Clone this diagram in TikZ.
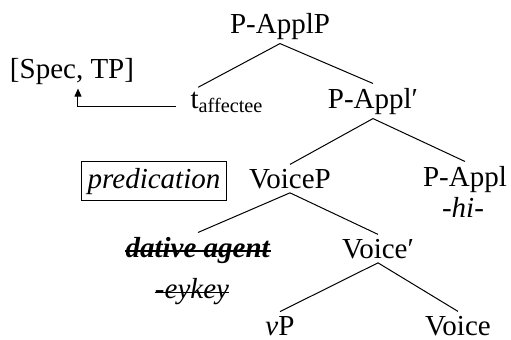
\documentclass[tikz,border=0pt]{standalone}
\usepackage{fontspec}
\setmainfont{Liberation Serif}
\usetikzlibrary{positioning, arrows.meta}

\begin{document}
\begin{tikzpicture}[x=0.5pt, y=-0.5pt,
    cat/.style={font=\fontsize{14.5}{17}\selectfont, inner sep=2pt, anchor=base},
    branch/.style={line width=0.5pt}]
    \useasboundingbox (0,0) rectangle (511,339);
    % tree nodes
    \node (papplp) [cat] at (280,33) {P-ApplP};
    \node (spec) [cat] at (72,78) {[Spec, TP]};
    \node (taff) [cat] at (227,108) {t\textsubscript{affectee}};
    \node (pappl1) [cat] at (373,108) {P-Appl′};
    \node (pred) [cat, draw, line width=0.5pt, inner sep=3pt] at (154,188) {\textit{predication}};
    \node (voicep) [cat] at (290,188) {VoiceP};
    \node (pappl) [cat] at (465,186) {P-Appl};
    \node (hi) [cat] at (463,217) {\textit{-hi-}};
    \node (agent) [cat] at (198,257) {\textbf{\textit{dative agent}}};
    \node (eykey) [cat] at (192,298) {\textit{-eykey}};
    \node (voice1) [cat] at (378,258) {Voice′};
    \node (vp) [cat] at (280,335) {\textit{v}P};
    \node (voice) [cat] at (458,335) {Voice};

    \draw [branch] (papplp.south) -- ([xshift=6pt]taff.north west);
    \draw [branch] (papplp.south) -- (pappl1.north);
    \draw [branch] (pappl1.south) -- (voicep.north);
    \draw [branch] (pappl1.south) -- (pappl.north);
    \draw [branch] (voicep.south) -- (agent.north);
    \draw [branch] (voicep.south) -- (voice1.north);
    \draw [branch] (voice1.south) -- (vp.north);
    \draw [branch] (voice1.south) -- (voice.north);

    % strike-through
    \draw [line width=0.7pt] ([xshift=2pt, yshift=3pt]agent.base west) -- ([xshift=-2pt, yshift=3pt]agent.base east);
    \draw [line width=0.5pt] ([xshift=2pt, yshift=3pt]eykey.base west) -- ([xshift=-2pt, yshift=3pt]eykey.base east);

    % movement arrow
    \draw [branch, -{Triangle[length=4pt, width=3.5pt]}] ([xshift=-5pt, yshift=1pt]taff.base west) -| ([xshift=3pt]spec.south);
\end{tikzpicture}
\end{document}
